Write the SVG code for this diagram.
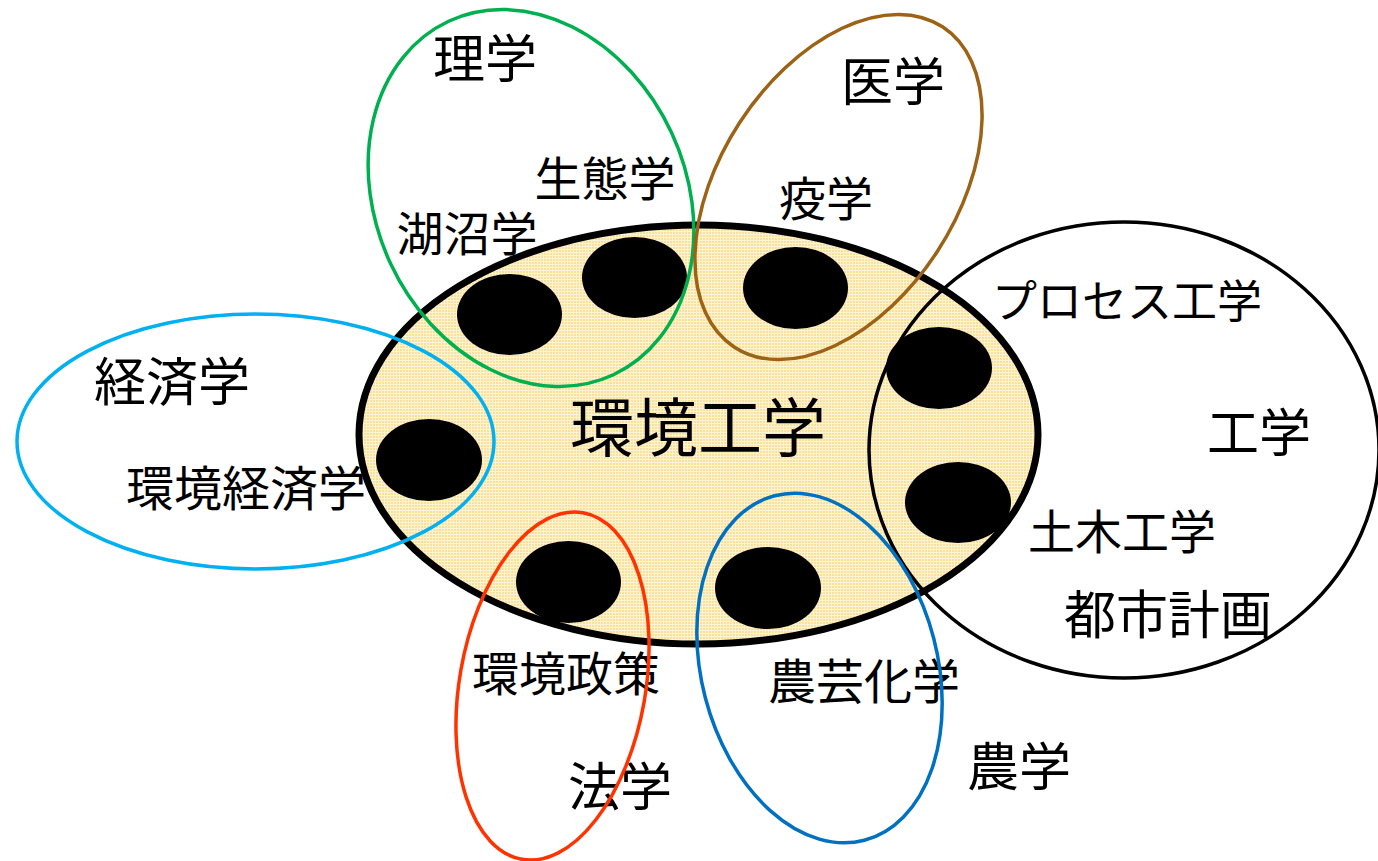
<svg xmlns="http://www.w3.org/2000/svg" width="1378" height="861" viewBox="0 0 1378 861">
<style>
.t{font-family:"Noto Sans CJK JP","Noto Sans CJK SC",sans-serif;fill:#000;text-anchor:middle}
.o{fill:none;stroke-width:3.5}
.dot{fill:#000}
</style>
<defs>
<pattern id="grid" width="3" height="3" patternUnits="userSpaceOnUse">
<rect width="3" height="3" fill="#FAE09A"/>
<path d="M0 0.5H3M0.5 0V3" stroke="#FFF4D2" stroke-width="1"/>
</pattern>
</defs>
<rect width="1378" height="861" fill="#fff"/>
<g id="labels">
<text class="t" x="485" y="78" font-size="52">理学</text>
<text class="t" x="893" y="101" font-size="52">医学</text>
<text class="t" x="605" y="196" font-size="47">生態学</text>
<text class="t" x="467" y="251" font-size="47">湖沼学</text>
<text class="t" x="826" y="216" font-size="47">疫学</text>
<text class="t" x="1127" y="318" font-size="45">プロセス工学</text>
<text class="t" x="1259" y="452" font-size="52">工学</text>
<text class="t" x="1122" y="549" font-size="47">土木工学</text>
<text class="t" x="1168" y="634" font-size="52">都市計画</text>
<text class="t" x="172" y="401" font-size="52">経済学</text>
<text class="t" x="246" y="506" font-size="48">環境経済学</text>
<text class="t" x="566" y="691" font-size="47">環境政策</text>
<text class="t" x="620" y="806" font-size="52">法学</text>
<text class="t" x="864" y="699" font-size="48">農芸化学</text>
<text class="t" x="1019" y="786" font-size="52">農学</text>
</g>
<g id="center">
<ellipse cx="698.5" cy="434.5" rx="339.5" ry="209.5" fill="url(#grid)" stroke="#000" stroke-width="7"/>
<text class="t" x="698" y="451" font-size="64">環境工学</text>
</g>
<g id="dots">
<ellipse class="dot" cx="509.5" cy="314.5" rx="52.5" ry="40.5"/>
<ellipse class="dot" cx="634.5" cy="277.5" rx="52.5" ry="40.5"/>
<ellipse class="dot" cx="795.5" cy="288" rx="52.5" ry="41"/>
<ellipse class="dot" cx="939" cy="368" rx="53" ry="41"/>
<ellipse class="dot" cx="958" cy="502.5" rx="53" ry="40.5"/>
<ellipse class="dot" cx="429" cy="460" rx="53" ry="41"/>
<ellipse class="dot" cx="568.5" cy="582" rx="52.5" ry="41"/>
<ellipse class="dot" cx="768" cy="588" rx="53" ry="41"/>
</g>
<g id="rigaku"><ellipse class="o" stroke="#00B050" cx="531" cy="198" rx="155" ry="195" transform="rotate(-25 531 198)"/></g>
<g id="igaku"><ellipse class="o" stroke="#9C6216" cx="838.5" cy="187" rx="118" ry="191" transform="rotate(33 838.5 187)"/></g>
<g id="keizai"><ellipse class="o" stroke="#00B0F0" cx="255.5" cy="441.5" rx="238.5" ry="127.5"/></g>
<g id="kougaku"><ellipse class="o" stroke="#000" stroke-width="3" cx="1124" cy="450" rx="255" ry="228"/></g>
<g id="hougaku"><ellipse class="o" stroke="#FF3300" cx="552.5" cy="686" rx="93" ry="176" transform="rotate(10 552.5 686)"/></g>
<g id="nougaku"><ellipse class="o" stroke="#0070C0" cx="819.5" cy="668" rx="118" ry="178" transform="rotate(-14.6 819.5 668)"/></g>
</svg>
